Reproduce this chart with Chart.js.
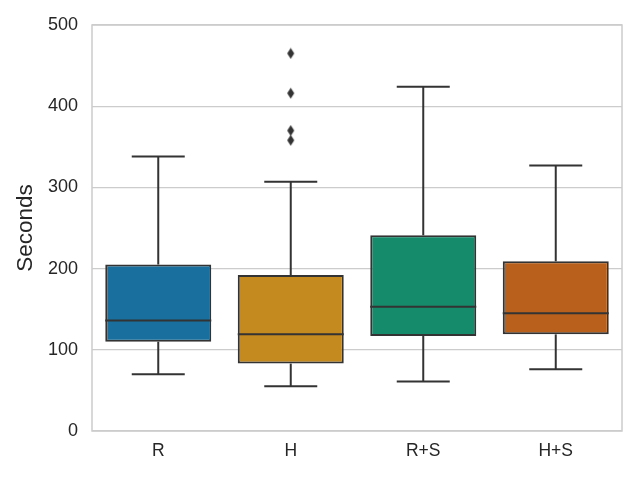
<!DOCTYPE html>
<html>
<head>
<meta charset="utf-8">
<script src="https://cdn.jsdelivr.net/npm/chart.js@4"></script>
<style>
  html, body { margin: 0; padding: 0; background: #fff; }
  #wrap { width: 640px; height: 480px; }
</style>
</head>
<body>
<div id="wrap"><canvas id="boxChart"></canvas></div>
<script>
// box plot values (seconds)
const groups = ["R", "H", "R+S", "H+S"];
const whiskerLow = [70, 55, 61, 76];
const q1 = [110, 83, 117, 119];
const median = [136, 119, 153, 145];
const q3 = [205, 192, 241, 209];
const whiskerHigh = [338, 307, 424, 327];
const outliers = [
  { x: "H", y: 465 },
  { x: "H", y: 416 },
  { x: "H", y: 370 },
  { x: "H", y: 358 },
];
const yTicks = [0, 100, 200, 300, 400, 500];

const boxColors = ["#19709e", "#c4891f", "#168b6b", "#b9611c"];
const lineColor = "#333333";

// thin diamond marker for the fliers
const diamond = document.createElement("canvas");
diamond.width = 9;
diamond.height = 12;
const dc = diamond.getContext("2d");
dc.fillStyle = lineColor;
dc.beginPath();
dc.moveTo(4.5, 0.5);
dc.lineTo(8, 6);
dc.lineTo(4.5, 11.5);
dc.lineTo(1, 6);
dc.closePath();
dc.fill();

// whiskers, caps and median lines, placed with the chart's scales
const boxExtras = {
  id: "boxExtras",
  afterDatasetsDraw(chart) {
    const x = chart.scales.x;
    const y = chart.scales.y;
    const bars = chart.getDatasetMeta(0).data;
    const c = chart.ctx;
    c.save();
    c.strokeStyle = lineColor;
    c.lineWidth = 2;
    groups.forEach((g, i) => {
      const cx = x.getPixelForValue(i);
      const half = bars[i].width / 2;
      const cap = half / 2;
      const line = (x1, y1, x2, y2) => {
        c.beginPath();
        c.moveTo(x1, y1);
        c.lineTo(x2, y2);
        c.stroke();
      };
      line(cx, y.getPixelForValue(q3[i]), cx, y.getPixelForValue(whiskerHigh[i]));
      line(cx, y.getPixelForValue(q1[i]), cx, y.getPixelForValue(whiskerLow[i]));
      line(cx - cap, y.getPixelForValue(whiskerHigh[i]), cx + cap, y.getPixelForValue(whiskerHigh[i]));
      line(cx - cap, y.getPixelForValue(whiskerLow[i]), cx + cap, y.getPixelForValue(whiskerLow[i]));
      line(cx - half, y.getPixelForValue(median[i]), cx + half, y.getPixelForValue(median[i]));
    });
    c.restore();
  },
  afterDraw(chart) {
    // light frame round the plot
    const a = chart.chartArea;
    const c = chart.ctx;
    c.save();
    c.strokeStyle = "#cccccc";
    c.lineWidth = 1.5;
    c.strokeRect(a.left, a.top, a.right - a.left, a.bottom - a.top);
    c.restore();
  },
};

Chart.defaults.font.family = "'Liberation Sans', Arial, sans-serif";
Chart.defaults.color = "#262626";

const ctx = document.getElementById("boxChart").getContext("2d");
const boxChart = new Chart(ctx, {
  type: "bar",
  data: {
    labels: groups,
    datasets: [
      {
        label: "box",
        data: groups.map((g, i) => [q1[i], q3[i]]),
        backgroundColor: boxColors,
        borderColor: lineColor,
        borderWidth: 2,
        borderSkipped: false,
        categoryPercentage: 1,
        barPercentage: 0.8,
      },
      {
        type: "line",
        label: "outliers",
        data: outliers,
        showLine: false,
        pointStyle: diamond,
      },
    ],
  },
  plugins: [boxExtras],
  options: {
    responsive: true,
    maintainAspectRatio: false,
    animation: false,
    layout: { padding: { top: 25, right: 18, left: 0, bottom: 0 } },
    plugins: {
      legend: { display: false },
      tooltip: { enabled: false },
    },
    scales: {
      x: {
        grid: { display: false, drawTicks: false },
        border: { display: false },
        ticks: { font: { size: 17.5 }, padding: 10 },
        afterFit: (s) => { s.height = 49; },
      },
      y: {
        min: 0,
        max: 500,
        afterBuildTicks: (s) => { s.ticks = yTicks.map((v) => ({ value: v })); },
        grid: { color: "#cccccc", lineWidth: 1.2, drawTicks: false },
        border: { display: false },
        ticks: { font: { size: 18 }, padding: 14 },
        title: {
          display: true,
          text: "Seconds",
          font: { size: 22.5 },
          padding: { top: 12, bottom: 0 },
        },
        afterFit: (s) => { s.width = 92; },
      },
    },
  },
});
</script>
</body>
</html>
